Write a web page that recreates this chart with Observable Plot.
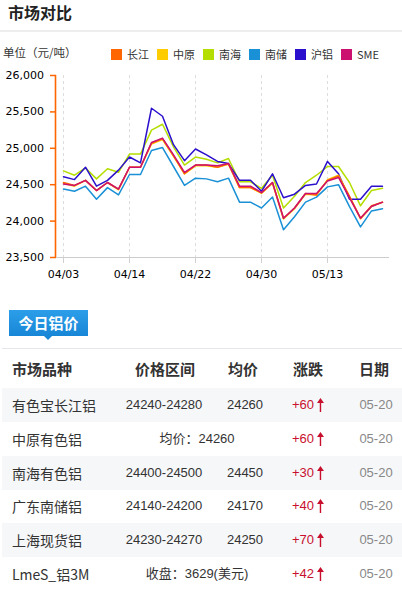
<!DOCTYPE html>
<html>
<head>
<meta charset="utf-8">
<script src="https://cdn.jsdelivr.net/npm/d3@7"></script>
<script src="https://cdn.jsdelivr.net/npm/@observablehq/plot@0.6"></script>
<style>
  html, body { margin: 0; padding: 0; background: #fff; }
  body { width: 402px; height: 594px; position: relative; overflow: hidden; font-family: "Noto Sans CJK SC", "Noto Sans", sans-serif; color: #333; }
  .abs { position: absolute; }
  #title { left: 8px; top: 1px; font-size: 16px; font-weight: bold; color: #222; line-height: 22px; }
  #sep1 { left: 0; top: 30px; width: 402px; height: 2px; background: #eeeeee; }
  #unit { left: 3px; top: 44px; font-size: 11.5px; line-height: 16px; color: #333; }
  #legend { left: 111px; top: 46px; display: flex; font-size: 11px; line-height: 16px; }
  .li { display: flex; align-items: center; margin-right: 8px; }
  .sw { width: 11px; height: 11px; margin-right: 5px; }
  #chart { left: 0; top: 62px; }
  #tab { left: 9px; top: 310px; width: 79px; height: 26px; background: linear-gradient(#2c9ee9, #1886d6); color: #fff; font-weight: bold; font-size: 15px; line-height: 26px; text-align: center; }
  #tabArrow { left: 44px; top: 336px; width: 0; height: 0; border-left: 4px solid transparent; border-right: 4px solid transparent; border-top: 4px solid #1886d6; }
  #sep2 { left: 2px; top: 348px; width: 400px; height: 1px; background: #e4e6ea; }
  .row { position: absolute; left: 2px; width: 400px; height: 34px; }
  .cell { position: absolute; top: 0; height: 34px; line-height: 34px; white-space: nowrap; }
  .hdr .cell { font-weight: bold; font-size: 15px; color: #333; }
  .name { left: 10px; font-size: 14px; color: #333; }
  .num { font-family: "Liberation Sans", "Noto Sans CJK SC", sans-serif; font-size: 13px; color: #333; transform: translateX(-50%); }
  .chg { font-family: "Liberation Sans", "Noto Sans CJK SC", sans-serif; font-size: 13px; color: #c8102e; transform: translateX(-50%); display: flex; align-items: center; }
  .chg svg { margin-left: 3px; }
  .dt { font-family: "Liberation Sans", sans-serif; font-size: 13px; color: #888; transform: translateX(-50%); }
  .ctr { transform: translateX(-50%); }
</style>
</head>
<body>
<div id="title" class="abs">市场对比</div>
<div id="sep1" class="abs"></div>
<div id="unit" class="abs">单位（元/吨）</div>
<div id="legend" class="abs"></div>
<div id="chart" class="abs"></div>
<div id="tab" class="abs">今日铝价</div>
<div id="tabArrow" class="abs"></div>
<div id="sep2" class="abs"></div>
<div id="table"></div>
<script>
// ---------- chart data ----------
const dates = ["04/03","04/07","04/08","04/09","04/10","04/11","04/14","04/15","04/16","04/17",
               "04/18","04/21","04/22","04/23","04/24","04/25","04/28","04/29","04/30","05/06",
               "05/07","05/08","05/09","05/12","05/13","05/14","05/15","05/16","05/19","05/20"];
const tickDates = ["04/03","04/14","04/22","04/30","05/13"];
const yTicks = [23500, 24000, 24500, 25000, 25500, 26000];
const seriesNames = ["长江","中原","南海","南储","沪铝","SME"];
const seriesColors = ["#ff6600","#ffcc00","#b3de00","#1a90d6","#2a10cc","#cc1070"];

const changjiang = [24530,24490,24560,24420,24530,24440,24740,24740,25070,25130,24900,24650,24770,24770,24740,24790,24460,24460,24390,24530,24040,24180,24380,24360,24560,24620,24340,24040,24210,24260];
const zhongyuan  = [24520,24480,24560,24420,24530,24430,24740,24740,25060,25120,24890,24650,24760,24760,24740,24780,24460,24460,24380,24520,24030,24170,24370,24360,24570,24630,24340,24030,24200,24260];
const nanhai     = [24690,24630,24730,24580,24720,24670,24920,24920,25250,25330,25020,24770,24880,24850,24800,24860,24540,24540,24450,24630,24180,24340,24530,24630,24750,24750,24530,24210,24420,24450];
const nanchu     = [24440,24410,24480,24300,24460,24360,24640,24640,24970,25010,24750,24490,24590,24580,24540,24590,24260,24260,24180,24330,23880,24060,24260,24330,24470,24500,24200,23920,24140,24170];
const hulv       = [24610,24570,24740,24480,24560,24700,24880,24800,25550,25440,25050,24830,24990,24910,24820,24790,24560,24560,24410,24650,24320,24370,24490,24510,24820,24650,24300,24300,24480,24480];
const sme        = [24510,24490,24560,24420,24530,24440,24740,24740,25080,25140,24910,24670,24770,24770,24760,24790,24480,24480,24390,24530,24040,24180,24380,24380,24550,24600,24320,24040,24200,24260];

// ---------- table data ----------
const headers = ["市场品种","价格区间","均价","涨跌","日期"];
const tableNames = ["有色宝长江铝","中原有色铝","南海有色铝","广东南储铝","上海现货铝","LmeS_铝3M"];
const tableRanges = ["24240-24280", null, "24400-24500", "24140-24200", "24230-24270", null];
const tableAvgs = ["24260", null, "24450", "24170", "24250", null];
const tableMerged = [null, "均价：24260", null, null, null, "收盘：3629(美元)"];
const tableChanges = ["+60","+60","+30","+40","+70","+42"];
const tableDates = ["05-20","05-20","05-20","05-20","05-20","05-20"];

// ---------- legend ----------
const legend = document.getElementById("legend");
seriesNames.forEach((n, i) => {
  const li = document.createElement("div"); li.className = "li";
  const sw = document.createElement("div"); sw.className = "sw"; sw.style.background = seriesColors[i];
  const tx = document.createElement("span"); tx.textContent = n;
  li.appendChild(sw); li.appendChild(tx); legend.appendChild(li);
});

// ---------- chart ----------
const seriesData = {"长江": changjiang, "中原": zhongyuan, "南海": nanhai, "南储": nanchu, "沪铝": hulv, "SME": sme};
const rows = [];
seriesNames.forEach(s => seriesData[s].forEach((v, i) => rows.push({date: dates[i], series: s, value: v})));
const drawOrder = ["南储","南海","沪铝","中原","长江","SME"];

const yAxisLine = (index, scales, values, dims) => {
  const x = dims.marginLeft - 0.5;
  return d3.create("svg:line")
    .attr("x1", x).attr("x2", x)
    .attr("y1", dims.marginTop).attr("y2", dims.height - dims.marginBottom)
    .attr("stroke", "#ff6600").attr("stroke-width", 1.6).node();
};

const plot = Plot.plot({
  width: 402,
  height: 222,
  marginTop: 13,
  marginBottom: 27,
  marginLeft: 56,
  marginRight: 13,
  style: {fontFamily: "DejaVu Sans, sans-serif", fontSize: "11px", color: "#000", background: "transparent"},
  x: {type: "point", domain: dates, padding: 0, insetLeft: 6.3, insetRight: 5.3, label: null},
  y: {domain: [23500, 26000], label: null},
  color: {domain: seriesNames, range: seriesColors},
  marks: [
    Plot.ruleX(tickDates, {stroke: "#dddddd", strokeDasharray: "3,3"}),
    Plot.ruleY([yTicks[0]], {stroke: "#cccccc", strokeWidth: 1.2}),
    Plot.axisX({ticks: tickDates, tickSize: 6, tickPadding: 7, stroke: "#d0d0d0", fill: "#000", label: null}),
    Plot.axisY({ticks: yTicks, tickSize: 6, tickPadding: 6.5, stroke: "#ff6600", strokeWidth: 1.5, fill: "#000", tickFormat: d3.format(","), label: null}),
    yAxisLine,
    ...drawOrder.map(s => Plot.line(rows.filter(r => r.series === s), {x: "date", y: "value", stroke: "series", strokeWidth: 1.5}))
  ]
});
document.getElementById("chart").appendChild(plot);

// ---------- table ----------
const table = document.getElementById("table");
const colCenters = [null, 164, 245, 307, 376];
function mk(parent, cls, left, text) {
  const d = document.createElement("div");
  d.className = "cell " + cls;
  if (left != null) d.style.left = left + "px";
  d.textContent = text;
  parent.appendChild(d);
  return d;
}
const upArrow = '<svg width="7" height="14" viewBox="0 0 7 14"><path d="M3.5 0 L7 5 L4.2 5 L4.2 14 L2.8 14 L2.8 5 L0 5 Z" fill="#c8102e"/></svg>';
const hdr = document.createElement("div");
hdr.className = "row hdr"; hdr.style.top = "352px";
mk(hdr, "", 10, headers[0]);
mk(hdr, "ctr", 163, headers[1]);
mk(hdr, "ctr", 241, headers[2]);
mk(hdr, "ctr", 306, headers[3]);
mk(hdr, "ctr", 372, headers[4]);
table.appendChild(hdr);

tableNames.forEach((n, i) => {
  const r = document.createElement("div");
  r.className = "row";
  r.style.top = (388 + i * 33.8) + "px";
  if (i % 2 === 0) r.style.background = "#f6f7f9";
  mk(r, "name", null, n);
  if (tableMerged[i]) {
    mk(r, "num", 195, tableMerged[i]);
  } else {
    mk(r, "num", colCenters[1] - 2, tableRanges[i]);
    mk(r, "num", colCenters[2] - 2, tableAvgs[i]);
  }
  const c = mk(r, "chg", colCenters[3] - 1, tableChanges[i]);
  c.insertAdjacentHTML("beforeend", upArrow);
  mk(r, "dt", colCenters[4] - 2, tableDates[i]);
  table.appendChild(r);
});
</script>
</body>
</html>
